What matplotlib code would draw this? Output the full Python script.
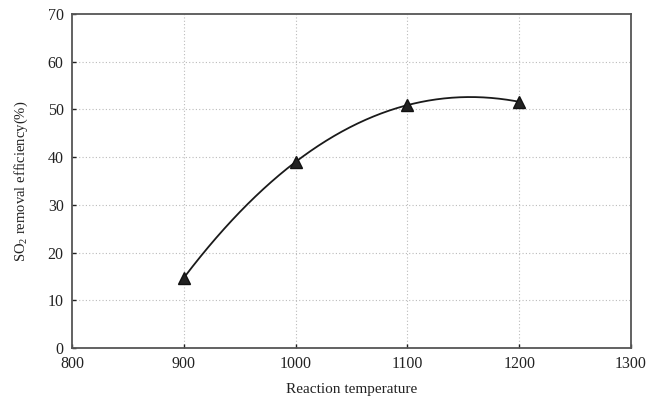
import numpy as np
import matplotlib
matplotlib.use("Agg")
import matplotlib.pyplot as plt

temperature = [900, 1000, 1100, 1200]
efficiency = [14.7, 39.0, 50.9, 51.6]
x_ticks = [800, 900, 1000, 1100, 1200, 1300]
y_ticks = [0, 10, 20, 30, 40, 50, 60, 70]

plt.rcParams['font.family'] = ['Liberation Serif', 'DejaVu Serif']
plt.rcParams['mathtext.fontset'] = 'custom'
plt.rcParams['mathtext.rm'] = 'Liberation Serif'

fig = plt.figure(figsize=(6.47, 3.98), dpi=100)
ax = fig.add_axes([72/647, 50/398, (631-72)/647, (348-14)/398])

coef = np.polyfit(temperature, efficiency, 3)
xs = np.linspace(min(temperature), max(temperature), 300)
ax.plot(xs, np.polyval(coef, xs), color='#1a1a1a', lw=1.3, zorder=3)
ax.plot(temperature, efficiency, linestyle='none', marker='^', ms=8,
        color='#222222', mec='#111111', zorder=4)

ax.set_xlim(800, 1300)
ax.set_ylim(0, 70)
ax.set_xticks(x_ticks)
ax.set_yticks(y_ticks)
ax.tick_params(direction='in', length=3, width=1, labelsize=11.5, colors='#222222')
ax.tick_params(axis='x', pad=6)
ax.tick_params(axis='y', pad=6)
for s in ax.spines.values():
    s.set_color('#555555')
    s.set_linewidth(1.3)

for t in x_ticks[1:-1]:
    ax.axvline(t, color='#bbbbbb', lw=0.8, ls=(0, (1, 2)), zorder=1)
for t in y_ticks[1:-1]:
    ax.axhline(t, color='#bbbbbb', lw=0.8, ls=(0, (1, 2)), zorder=1)

ax.set_xlabel('Reaction temperature', fontsize=11, labelpad=8, color='#222222')
ax.set_ylabel('SO$_2$ removal efficiency(%)', fontsize=10.5, labelpad=13, color='#222222')

fig.savefig('out.png', dpi=100)
